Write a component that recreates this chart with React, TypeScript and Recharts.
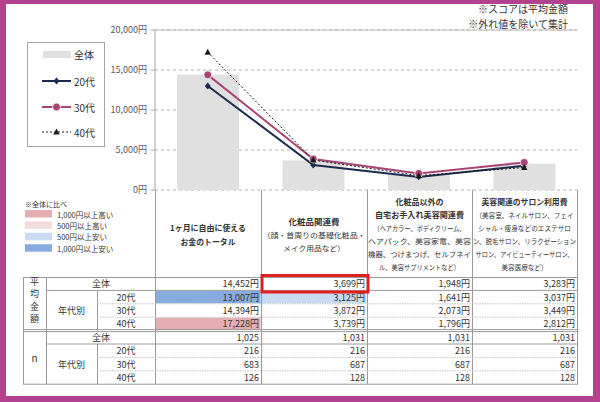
import {
  ComposedChart,
  Bar,
  Line,
  XAxis,
  YAxis,
  CartesianGrid,
  ReferenceLine,
  Legend,
} from 'recharts';

const categories = [
  '1ヶ月に自由に使えるお金のトータル',
  '化粧品関連費',
  '化粧品以外の自宅お手入れ美容関連費',
  '美容関連のサロン利用費',
];
const overallValues = [14452, 3699, 1948, 3283];
const age20Values = [13007, 3125, 1641, 3037];
const age30Values = [14394, 3872, 2073, 3449];
const age40Values = [17228, 3739, 1796, 2812];
const nOverall = [1025, 1031, 1031, 1031];
const n20 = [216, 216, 216, 216];
const n30 = [683, 687, 687, 687];
const n40 = [126, 128, 128, 128];
const ageLabels = ['20代', '30代', '40代'];
const yTicks = [0, 5000, 10000, 15000, 20000];

// header text of each column, split the way the original wraps it
const headerBold = [
  ['1ヶ月に自由に使える', 'お金のトータル'],
  ['化粧品関連費'],
  ['化粧品以外の', '自宅お手入れ美容関連費'],
  ['美容関連のサロン利用費'],
];
const headerNote = [
  [],
  ['（顔・首周りの基礎化粧品・', 'メイク用品など）'],
  ['（ヘアカラー、ボディクリーム、', 'ヘアパック、美容家電、美容', '機器、つけまつげ、セルフネイ', 'ル、美容サプリメントなど）'],
  ['（美容室、ネイルサロン、フェイ', 'シャル・痩身などのエステサロ', 'ン、脱毛サロン、リラクゼーション', 'サロン、アイビューティーサロン、', '美容医療など）'],
];
const swatchLabels = ['1,000円以上高い', '500円以上高い', '500円以上安い', '1,000円以上安い'];

// rendered width of each header line (layout only)
const headerWidths = [
  [76, 55],
  [51, 103, 62],
  [48, 89, 92, 103, 103, 81],
  [86, 98, 93, 103, 98, 46],
];

const FONT = '"Noto Sans CJK JP", "Noto Sans", sans-serif';
const COLORS = {
  frame: '#b2428f',
  overall: '#e0e0e0',
  age20: '#1c2a4e',
  age30: '#a84474',
  age40: '#1a1a1a',
  axis: '#a6a6a6',
  text: '#333333',
};
const SWATCH = ['#e6aeb1', '#f4dcdd', '#c8dbf2', '#88acdf'];
const SERIES_ORDER = ['overall', 'age20', 'age30', 'age40'];

const data = categories.map((name, i) => ({
  name,
  overall: overallValues[i],
  age20: age20Values[i],
  age30: age30Values[i],
  age40: age40Values[i],
}));

const yen = (v: number) => `${v.toLocaleString('en-US')}円`;

function diffColor(v: number, base: number) {
  const d = v - base;
  if (d >= 1000) return SWATCH[0];
  if (d >= 500) return SWATCH[1];
  if (d <= -1000) return SWATCH[3];
  if (d <= -500) return SWATCH[2];
  return null;
}

function marker(kind: string, cx: number, cy: number, color: string, key?: string) {
  if (kind === 'age20')
    return <path key={key} d={`M${cx},${cy - 3.5}L${cx + 3},${cy}L${cx},${cy + 3.5}L${cx - 3},${cy}Z`} fill={color} />;
  if (kind === 'age30') return <circle key={key} cx={cx} cy={cy} r={4} fill={color} stroke="#fff" strokeWidth={0.8} />;
  return <path key={key} d={`M${cx},${cy - 3.5}L${cx + 3.2},${cy + 2.5}L${cx - 3.2},${cy + 2.5}Z`} fill={color} />;
}

function LegendBox({ payload }: any) {
  const rows = [12.5, 39, 65, 90];
  const items = [...(payload || [])].sort(
    (a: any, b: any) => SERIES_ORDER.indexOf(a.dataKey) - SERIES_ORDER.indexOf(b.dataKey)
  );
  return (
    <svg width={78} height={105} style={{ display: 'block' }}>
      <rect x={0.5} y={0.5} width={77} height={104} fill="#fff" stroke={COLORS.axis} />
      {items.map((p: any, i: number) => {
        const y = rows[i];
        return (
          <g key={p.dataKey}>
            {p.dataKey === 'overall' ? (
              <rect x={16} y={y - 3.5} width={28} height={7} fill={p.color} />
            ) : (
              <>
                <line
                  x1={15}
                  x2={44}
                  y1={y}
                  y2={y}
                  stroke={p.color}
                  strokeWidth={p.dataKey === 'age40' ? 1 : 2}
                  strokeDasharray={p.dataKey === 'age40' ? '2 2' : undefined}
                />
                {marker(p.dataKey, 29.5, y, p.color)}
              </>
            )}
            <text x={47} y={y} dominantBaseline="central" fontSize={10} fill={COLORS.text} fontFamily={FONT}>
              {p.value}
            </text>
          </g>
        );
      })}
    </svg>
  );
}

const colX = [23, 46, 97, 155, 261, 367, 472, 577];
const rowTop = 277;
const rowH = 13.4;
const rowY = (i: number) => rowTop + i * rowH;

function Table() {
  const avgRows = [overallValues, age20Values, age30Values, age40Values];
  const nRows = [nOverall, n20, n30, n40];
  const line = '#9a9a9a';
  const light = '#c4c4c4';
  const txt = { fontFamily: FONT, fill: COLORS.text };
  return (
    <svg width={600} height={402} style={{ position: 'absolute', left: 0, top: 0 }}>
      {/* colour key */}
      <text x={25} y={204} fontSize={7} dominantBaseline="central" {...txt}>※全体に比べ</text>
      {swatchLabels.map((s, i) => (
        <g key={s}>
          <rect x={25} y={210 + i * 11.4} width={27} height={7.5} fill={SWATCH[i]} />
          <text x={57} y={214 + i * 11.4} fontSize={7.5} dominantBaseline="central" {...txt}>{s}</text>
        </g>
      ))}

      {/* column headers */}
      {categories.map((c, k) => {
        const cx = (colX[k + 3] + colX[k + 4]) / 2;
        const lines = [
          ...headerBold[k].map((t) => ({ t, b: true })),
          ...headerNote[k].map((t) => ({ t, b: false })),
        ];
        const gap = 13.1;
        const start = 234.5 - ((lines.length - 1) * gap) / 2;
        return (
          <g key={c}>
            {lines.map((l, j) => (
              <text
                key={j}
                x={cx}
                y={start + j * gap}
                textAnchor="middle"
                dominantBaseline="central"
                fontSize={l.b ? 8 : 7}
                fontWeight={l.b ? 700 : 400}
                textLength={headerWidths[k][j]}
                lengthAdjust="spacingAndGlyphs"
                {...txt}
              >
                {l.t}
              </text>
            ))}
          </g>
        );
      })}

      {/* cell fills */}
      {avgRows.map((r, i) =>
        r.map((v, k) => {
          const col = i === 0 ? null : diffColor(v, overallValues[k]);
          return col ? (
            <rect key={`f${i}${k}`} x={colX[k + 3] + 0.5} y={rowY(i) + 0.5} width={colX[k + 4] - colX[k + 3] - 1} height={rowH - 1} fill={col} />
          ) : null;
        })
      )}

      {/* grid lines */}
      {[155, 261, 367, 472].map((x) => (
        <line key={`v${x}`} x1={x + 0.5} x2={x + 0.5} y1={190} y2={rowY(8)} stroke={line} />
      ))}
      <line x1={577.5} x2={577.5} y1={190} y2={rowY(8)} stroke={line} />
      <line x1={23.5} x2={23.5} y1={rowTop} y2={rowY(8)} stroke={line} />
      <line x1={46.5} x2={46.5} y1={rowTop} y2={rowY(8)} stroke={line} />
      <line x1={97.5} x2={97.5} y1={rowY(1)} y2={rowY(4)} stroke={line} />
      <line x1={97.5} x2={97.5} y1={rowY(5)} y2={rowY(8)} stroke={line} />
      <line x1={23} x2={578} y1={rowTop + 0.5} y2={rowTop + 0.5} stroke={line} />
      <line x1={46} x2={578} y1={rowY(1)} y2={rowY(1)} stroke={line} />
      <line x1={97} x2={578} y1={rowY(2)} y2={rowY(2)} stroke={light} strokeDasharray="1.5 1" />
      <line x1={97} x2={578} y1={rowY(3)} y2={rowY(3)} stroke={light} strokeDasharray="1.5 1" />
      <line x1={23} x2={578} y1={rowY(4) - 1} y2={rowY(4) - 1} stroke={line} />
      <line x1={23} x2={578} y1={rowY(4) + 1} y2={rowY(4) + 1} stroke={line} />
      <line x1={46} x2={578} y1={rowY(5)} y2={rowY(5)} stroke={line} />
      <line x1={97} x2={578} y1={rowY(6)} y2={rowY(6)} stroke={light} strokeDasharray="1.5 1" />
      <line x1={97} x2={578} y1={rowY(7)} y2={rowY(7)} stroke={light} strokeDasharray="1.5 1" />
      <line x1={23} x2={578} y1={rowY(8)} y2={rowY(8)} stroke={line} />

      {/* row labels */}
      {['平', '均', '金', '額'].map((ch, i) => (
        <text key={ch} x={34.5} y={281.5 + i * 12.3} textAnchor="middle" dominantBaseline="central" fontSize={9} {...txt}>{ch}</text>
      ))}
      <text x={34.5} y={357} textAnchor="middle" dominantBaseline="central" fontSize={10} {...txt}>n</text>
      {[0, 4].map((g) => (
        <g key={`g${g}`}>
          <text x={101} y={rowY(g) + rowH / 2} textAnchor="middle" dominantBaseline="central" fontSize={9} {...txt}>全体</text>
          <text x={71.5} y={rowY(g + 2) + rowH / 2} textAnchor="middle" dominantBaseline="central" fontSize={9} {...txt}>年代別</text>
          {ageLabels.map((a, i) => (
            <text key={a} x={126} y={rowY(g + 1 + i) + rowH / 2} textAnchor="middle" dominantBaseline="central" fontSize={9} {...txt}>{a}</text>
          ))}
        </g>
      ))}

      {/* values */}
      {avgRows.map((r, i) =>
        r.map((v, k) => (
          <text key={`a${i}${k}`} x={colX[k + 4] - 2} y={rowY(i) + rowH / 2} textAnchor="end" dominantBaseline="central" fontSize={9} {...txt}>
            {yen(v)}
          </text>
        ))
      )}
      {nRows.map((r, i) =>
        r.map((v, k) => (
          <text key={`n${i}${k}`} x={colX[k + 4] - 2} y={rowY(i + 4) + rowH / 2} textAnchor="end" dominantBaseline="central" fontSize={9} {...txt}>
            {v.toLocaleString('en-US')}
          </text>
        ))
      )}

      {/* highlight */}
      <rect x={262} y={275.5} width={106} height={16.5} fill="none" stroke="#e0201c" strokeWidth={3} />

      {/* notes */}
      <text x={568} y={8.8} textAnchor="end" dominantBaseline="central" fontSize={10} {...txt}>※スコアは平均金額</text>
      <text x={568} y={23.5} textAnchor="end" dominantBaseline="central" fontSize={10} {...txt}>※外れ値を除いて集計</text>
    </svg>
  );
}

export default function App() {
  return (
    <div style={{ position: 'absolute', left: 0, top: 0, width: 600, height: 402, background: COLORS.frame, fontFamily: FONT }}>
      <div style={{ position: 'absolute', left: 6, top: 4, width: 587, height: 392, background: '#fff' }} />
      <div style={{ position: 'absolute', left: 0, top: 0 }}>
        <ComposedChart width={600} height={402} data={data} margin={{ top: 30, right: 23, bottom: 212, left: 95 }}>
          <CartesianGrid vertical={false} stroke="#b0b0b0" strokeDasharray="3 3" />
          <XAxis dataKey="name" height={0} tick={false} tickLine={false} axisLine={{ stroke: COLORS.axis }} />
          <YAxis
            width={60}
            domain={[0, 20000]}
            ticks={yTicks}
            interval={0}
            tickFormatter={(v: number) => yen(v)}
            tick={{ fontSize: 9, fill: '#595959', fontFamily: FONT }}
            tickSize={4}
            tickMargin={4}
            axisLine={{ stroke: COLORS.axis }}
            tickLine={{ stroke: COLORS.axis }}
          />
          <YAxis yAxisId="right" orientation="right" width={0} domain={[0, 20000]} tick={false} tickLine={false} axisLine={{ stroke: '#bfbfbf' }} />
          <ReferenceLine y={20000} stroke="#bfbfbf" />
          <Legend
            layout="horizontal"
            verticalAlign="middle"
            align="center"
            wrapperStyle={{ left: 27, top: 42, width: 78, height: 105 }}
            content={(props: any) => <LegendBox payload={props.payload} />}
          />
          <Bar dataKey="overall" name="全体" fill={COLORS.overall} barSize={62} isAnimationActive={false} />
          <Line
            dataKey="age20"
            name="20代"
            type="linear"
            stroke={COLORS.age20}
            strokeWidth={2}
            dot={(p: any) => marker('age20', p.cx, p.cy, COLORS.age20, `d20-${p.index}`)}
            activeDot={false}
            isAnimationActive={false}
          />
          <Line
            dataKey="age30"
            name="30代"
            type="linear"
            stroke={COLORS.age30}
            strokeWidth={2}
            dot={(p: any) => marker('age30', p.cx, p.cy, COLORS.age30, `d30-${p.index}`)}
            activeDot={false}
            isAnimationActive={false}
          />
          <Line
            dataKey="age40"
            name="40代"
            type="linear"
            stroke={COLORS.age40}
            strokeWidth={1}
            strokeDasharray="2 2"
            dot={(p: any) => marker('age40', p.cx, p.cy, COLORS.age40, `d40-${p.index}`)}
            activeDot={false}
            isAnimationActive={false}
          />
        </ComposedChart>
      </div>
      <Table />
    </div>
  );
}
